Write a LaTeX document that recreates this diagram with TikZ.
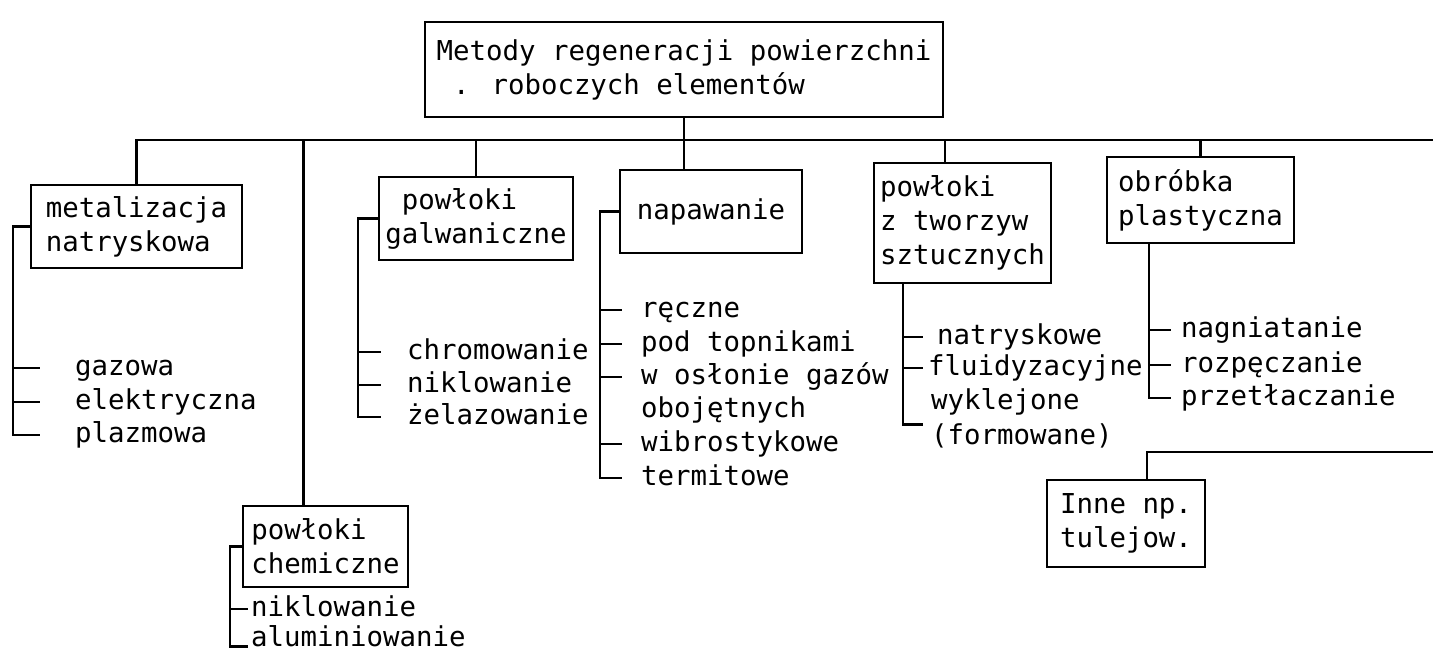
\documentclass[tikz,border=0pt]{standalone}
\usepackage{fontspec}
\usepackage{tikz}
\newfontfamily\pismo{DejaVu Sans Mono}
\newcommand\maszynowe{\pismo\fontsize{27.4pt}{34pt}\selectfont}
\tikzset{
  ramka/.style={draw, line width=2.4pt, align=left, inner sep=0pt, font=\maszynowe},
  punkt/.style={anchor=west, inner sep=0pt, text height=20pt, text depth=5pt, font=\maszynowe},
  linia/.style={line width=2.4pt},
}
\begin{document}
\begin{tikzpicture}[x=1pt, y=-1pt]
  \useasboundingbox (0,0) rectangle (1433,652);
  % ramki
  \node[ramka, minimum width=518pt, minimum height=95pt] (metody) at (684,69.5) {Metody regeneracji powierzchni\\~. roboczych elementów};
  \node[ramka, minimum width=211pt, minimum height=83pt] (metal) at (136.5,226.5) {metalizacja\\natryskowa};
  \node[ramka, minimum width=194pt, minimum height=83pt] (galw) at (476,218.5) {~powłoki\\galwaniczne};
  \node[ramka, minimum width=182pt, minimum height=83pt] (napaw) at (711,211.5) {napawanie};
  \node[ramka, minimum width=177pt, minimum height=120pt] (tworz) at (962.5,223) {powłoki\\z tworzyw\\sztucznych};
  \node[ramka, minimum width=187pt, minimum height=86pt] (obrob) at (1200.5,200) {obróbka\\plastyczna};
  \node[ramka, minimum width=165pt, minimum height=81pt] (chem) at (325.5,546.5) {powłoki\\chemiczne};
  \node[ramka, minimum width=158pt, minimum height=87pt] (inne) at (1126,523.5) {Inne np.\\tulejow.};
  % wyliczenia
  \node[punkt] (gaz) at (75,368) {gazowa};
  \node[punkt] (elek) at (75,402) {elektryczna};
  \node[punkt] (plazm) at (75,435) {plazmowa};
  \node[punkt] (chrom) at (407,352) {chromowanie};
  \node[punkt] (nikl) at (407,385) {niklowanie};
  \node[punkt] (zelaz) at (407,417) {żelazowanie};
  \node[punkt] (recz) at (641,310) {ręczne};
  \node[punkt] (topn) at (641,344) {pod topnikami};
  \node[punkt] (oslo) at (641,377) {w osłonie gazów};
  \node[punkt] (oboj) at (641,410) {obojętnych};
  \node[punkt] (wibr) at (641,444) {wibrostykowe};
  \node[punkt] (term) at (641,478) {termitowe};
  \node[punkt] (natr) at (937,337) {natryskowe};
  \node[punkt] (fluid) at (928,368) {fluidyzacyjne};
  \node[punkt] (wykl) at (931,402) {wyklejone};
  \node[punkt] (form) at (931,437) {(formowane)};
  \node[punkt] (nagn) at (1181,330) {nagniatanie};
  \node[punkt] (rozp) at (1181,365) {rozpęczanie};
  \node[punkt] (przetl) at (1181,398) {przetłaczanie};
  \node[punkt] (nikl2) at (251,609) {niklowanie};
  \node[punkt] (alum) at (251,639) {aluminiowanie};
  % szyna glowna i powrot
  \coordinate (szynaP) at (1433,140);
  \coordinate (powrotP) at (1433,452);
  \draw[linia] (metal.north) |- (szynaP);
  \draw[linia] (metody.south) -- (metody.south |- napaw.north);
  \draw[linia] (galw.north) -- (galw.north |- szynaP);
  \draw[linia] ([xshift=-17.5pt]tworz.north) -- ([xshift=-17.5pt]tworz.north |- szynaP);
  \draw[linia] (obrob.north) -- (obrob.north |- szynaP);
  \draw[linia] ([xshift=-22pt]chem.north) -- ([xshift=-22pt]chem.north |- szynaP);
  \draw[linia] ([xshift=21pt]inne.north) |- (powrotP);
  % klamry
  \coordinate (kMetal) at (13,0);
  \coordinate (kGalw) at (358,0);
  \coordinate (kNapaw) at (600,0);
  \coordinate (kTworz) at (903,0);
  \coordinate (kObrob) at (1149,0);
  \coordinate (kChem) at (230,0);
  \draw[linia] (metal.west) -| (kMetal |- plazm.west) -- ++(27,0);
  \foreach \p in {gaz,elek} \draw[linia] (kMetal |- \p.west) -- ++(27,0);
  \draw[linia] (galw.west) -| (kGalw |- zelaz.west) -- ++(23,0);
  \foreach \p in {chrom,nikl} \draw[linia] (kGalw |- \p.west) -- ++(23,0);
  \draw[linia] (napaw.west) -| (kNapaw |- term.west) -- ++(22,0);
  \foreach \p in {recz,topn,oslo,wibr} \draw[linia] (kNapaw |- \p.west) -- ++(22,0);
  \draw[linia] (kTworz |- tworz.south) -- (kTworz |- form.north) -- ++(20,0);
  \foreach \p in {natr,fluid} \draw[linia] (kTworz |- \p.west) -- ++(20,0);
  \draw[linia] (kObrob |- obrob.south) -- (kObrob |- przetl.west) -- ++(22,0);
  \foreach \p in {nagn,rozp} \draw[linia] (kObrob |- \p.west) -- ++(22,0);
  \draw[linia] (chem.west) -| (kChem |- alum.base west) -- ++(18,0);
  \draw[linia] (kChem |- nikl2.west) -- ++(18,0);
\end{tikzpicture}
\end{document}
